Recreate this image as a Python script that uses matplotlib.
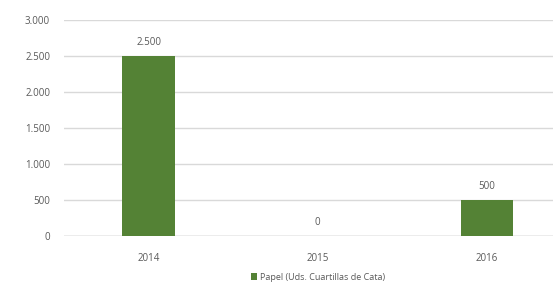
import matplotlib
matplotlib.use("Agg")
import matplotlib.pyplot as plt
from matplotlib.ticker import FuncFormatter

categories = ["2014", "2015", "2016"]
values = [2500, 0, 500]
series_name = "Papel (Uds. Cuartillas de Cata)"
yticks = [0, 500, 1000, 1500, 2000, 2500, 3000]

plt.rcParams['font.family'] = ['Open Sans', 'DejaVu Sans']
text_color = "#595959"
bar_color = "#548235"
W, H = 553, 284
fig = plt.figure(figsize=(W / 100, H / 100), dpi=100)
left, right, top, bottom = 64, 571.6, 20, 236
ax = fig.add_axes([left / W, 1 - bottom / H, (right - left) / W, (bottom - top) / H])

x = list(range(len(categories)))
bars = ax.bar(x, values, width=0.313, color=bar_color, zorder=3, label=series_name)
ax.set_xlim(-0.5, len(categories) - 0.5)
ax.set_ylim(0, 3000)
ax.set_yticks(yticks)
ax.yaxis.set_major_formatter(FuncFormatter(lambda v, p: f"{int(v):,}".replace(",", ".")))
ax.set_xticks(x)
ax.set_xticklabels(categories)
ax.grid(axis='y', color="#d9d9d9", linewidth=1, zorder=0)
for s in ax.spines.values():
    s.set_visible(False)
ax.axhline(0, color="#bfbfbf", linewidth=1, zorder=2)
ax.tick_params(axis='both', length=0, labelsize=7, colors=text_color)
ax.tick_params(axis='y', pad=10)
ax.tick_params(axis='x', pad=12)

for xi, v in zip(x, values):
    ax.annotate(f"{v:,}".replace(",", "."), (xi, v), xytext=(0, 6), textcoords='offset points',
                ha='center', va='bottom', fontsize=7, color=text_color)

leg = fig.legend(handles=[bars], labels=[series_name], loc='center',
                 bbox_to_anchor=((left + right) / 2 / W, 1 - 277 / H), frameon=False,
                 fontsize=6.5, handlelength=0.7, handleheight=0.7, handletextpad=0.3)
for t in leg.get_texts():
    t.set_color(text_color)

fig.savefig("out.png", dpi=100)
